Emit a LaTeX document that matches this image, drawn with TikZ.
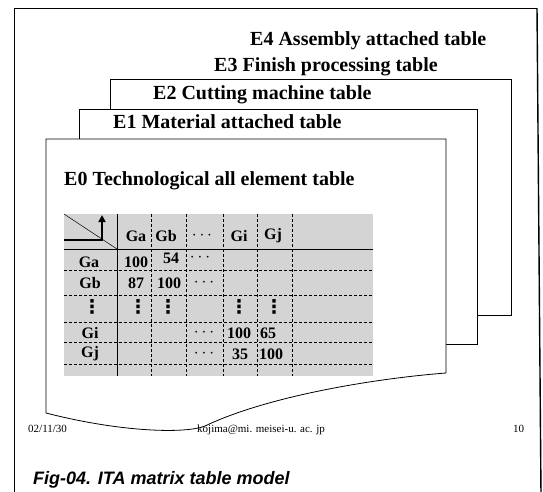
\documentclass[tikz,border=0pt]{standalone}
\usepackage{fontspec}
\setmainfont{Liberation Serif}
\newfontfamily\capfont{Liberation Sans}
\newfontfamily\symfont{DejaVu Sans}
\usetikzlibrary{arrows.meta}
\begin{document}
\begin{tikzpicture}[x=1pt,y=-1pt,
  page/.style={draw=black, line width=0.8pt, fill=white},
  ttl/.style={font=\fontsize{20}{20}\selectfont\bfseries, anchor=base west, inner sep=0pt},
  cell/.style={font=\fontsize{16}{16}\selectfont\bfseries, inner sep=0pt},
  vd/.style={font=\symfont\fontsize{19}{19}\selectfont\bfseries, inner sep=0pt},
  griddash/.style={line width=0.7pt, dash pattern=on 3pt off 2pt},
  foot/.style={font=\fontsize{11}{11}\selectfont, inner sep=0pt, anchor=base west},
  captxt/.style={font=\capfont\fontsize{18}{18}\selectfont\bfseries\itshape, inner sep=0pt, anchor=base west}]
\useasboundingbox (0,0) rectangle (543,491);
\fill[white] (0,0) rectangle (543,491);
% outer frame
\draw[line width=0.8pt] (14.5,495) -- (14.5,8) -- (537,8);
\draw[line width=1.4pt] (537,8) -- (541,495);
% titles of back pages
\node[ttl] (e4) at (250,45) {E4 Assembly attached table};
\node[ttl] (e3) at (214,71) {E3 Finish processing table};
% pages
\draw[page] (110,79) rectangle (511,315);
\node[ttl] (e2) at (153,99) {E2 Cutting machine table};
\draw[page] (79,109) rectangle (477,344);
\node[ttl] (e1) at (113,128) {E1 Material attached table};
\draw[page] (46,139) -- (446,139) -- (446,373)
  .. controls (380,378) and (270,395) .. (205,426)
  .. controls (185,434) and (120,432) .. (46,413) -- cycle;
\node[ttl] (e0) at (64,185) {E0 Technological all element table};
% table
\fill[black!17] (64,214) rectangle (373,376);
\foreach \xx in {151,186,223,257,292} \draw[griddash] (\xx,214) -- (\xx,376);
\foreach \yy in {270,295,322,342,364} \draw[griddash] (64,\yy) -- (373,\yy);
\draw[line width=0.8pt] (117,214) -- (117,376);
\draw[line width=0.8pt] (64,249) -- (373,249);
\draw[line width=0.5pt] (64,214) -- (117,249);
\draw[line width=2pt, -{Triangle[length=7pt,width=7pt]}] (64,240) -- (102,240) -- (102,215);
% header
\node[cell] (hGa) at (136,236) {Ga};
\node[cell] (hGb) at (166,236) {Gb};
\node[cell] (hdots) at (202,236) {$\cdots$};
\node[cell] (hGi) at (239,236) {Gi};
\node[cell] (hGj) at (273,236) {Gj};
% row labels
\node[cell] (rGa) at (89,262) {Ga};
\node[cell] (rGb) at (90,283) {Gb};
\node[vd] (rdots) at (92,307) {⋮};
\node[cell] (rGi) at (90,333) {Gi};
\node[cell] (rGj) at (90,354) {Gj};
% data
\node[cell] (c11) at (136,262) {100};
\node[cell] (c12) at (171,258) {54};
\node[cell] (c13) at (200,258) {$\cdots$};
\node[cell] (c21) at (136,283) {87};
\node[cell] (c22) at (169,283) {100};
\node[cell] (c23) at (204,283) {$\cdots$};
\node[vd] (d1) at (138,307) {⋮};
\node[vd] (d2) at (168,307) {⋮};
\node[vd] (d4) at (239,307) {⋮};
\node[vd] (d5) at (274,307) {⋮};
\node[cell] (c43) at (204,333) {$\cdots$};
\node[cell] (c44) at (239,333) {100};
\node[cell] (c45) at (268,333) {65};
\node[cell] (c53) at (204,354) {$\cdots$};
\node[cell] (c54) at (240,354) {35};
\node[cell] (c55) at (271,354) {100};
% footer
\node[foot] (date) at (28,432) {02/11/30};
\node[foot] (mail) at (197,432) {kojima@mi. meisei-u. ac. jp};
\node[foot] (pg) at (513,432) {10};
% caption
\node[captxt] (cap) at (33,484) {Fig-04. ITA matrix table model};
\end{tikzpicture}
\end{document}
